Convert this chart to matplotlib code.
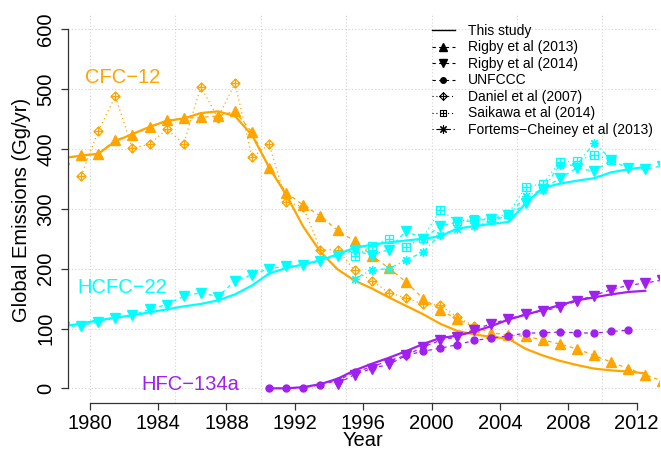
import numpy as np
import matplotlib.pyplot as plt
from matplotlib.path import Path
from matplotlib.lines import Line2D

plt.rcParams['font.family'] = ['Liberation Sans', 'DejaVu Sans']

# Annual global emissions in Gg/yr; each value is drawn at the middle of its year.
cfc12_study_years = list(range(1978, 2013))
cfc12_study = [385, 389, 392, 413, 425, 437, 447, 451, 460, 463,
               455, 423, 369, 323, 270, 228, 199, 180, 167, 152,
               138, 124, 108, 96, 90, 86, 83, 66, 55, 46,
               39, 33, 30, 28, 25]
cfc12_rigby_years = list(range(1978, 2014))
cfc12_rigby = [383, 390, 392, 415, 424, 436, 448, 451, 453, 455,
               463, 428, 369, 327, 306, 288, 264, 246, 222, 201,
               178, 150, 131, 116, 102, 93, 89, 87, 81, 74,
               66, 55, 44, 33, 23, 12]
cfc12_daniel_years = list(range(1979, 2003))
cfc12_daniel = [355, 430, 488, 401, 408, 433, 409, 504, 452, 510,
                386, 408, 312, 303, 231, 232, 197, 180, 160, 151,
                141, 139, 119, 104]

hcfc22_study_years = list(range(1978, 2013))
hcfc22_study = [104, 108, 114, 118, 122, 127, 132, 137, 141, 147,
                157, 172, 192, 201, 207, 214, 224, 235, 240, 244,
                247, 250, 254, 267, 271, 275, 278, 309, 335, 342,
                347, 351, 361, 366, 370]
hcfc22_rigby_years = list(range(1978, 2014))
hcfc22_rigby = [103, 105, 111, 118, 122, 132, 140, 154, 160, 153,
                180, 190, 200, 204, 206, 213, 222, 231, 222, 232,
                263, 250, 271, 278, 280, 283, 289, 309, 333, 351,
                368, 363, 381, 368, 366, 372]
hcfc22_saikawa_years = list(range(1995, 2011))
hcfc22_saikawa = [221, 238, 250, 236, 252, 298, 279, 283, 284, 292,
                  336, 342, 378, 380, 390, 382]
hcfc22_fortems_years = list(range(1995, 2011))
hcfc22_fortems = [183, 198, 200, 214, 228, 257, 266, 272, 280, 289,
                  321, 332, 373, 373, 410, 383]

hfc134a_study_years = list(range(1990, 2013))
hfc134a_study = [0, 0, 2, 7, 16, 30, 41, 51, 62, 74,
                 84, 88, 95, 104, 115, 123, 131, 139, 147, 152,
                 157, 161, 163]
hfc134a_rigby_years = list(range(1994, 2014))
hfc134a_rigby = [8, 23, 33, 40, 55, 69, 80, 86, 98, 108,
                 116, 124, 129, 136, 146, 155, 165, 172, 176, 181]
hfc134a_unfccc_years = list(range(1990, 2012))
hfc134a_unfccc = [0, 0, 1, 6, 13, 27, 36, 46, 55, 62,
                  67, 73, 80, 84, 88, 92, 93, 94, 93, 92,
                  95, 97]

legend_labels = ['This study', 'Rigby et al (2013)', 'Rigby et al (2014)', 'UNFCCC',
                 'Daniel et al (2007)', 'Saikawa et al (2014)',
                 'Fortems\u2212Cheiney et al (2013)']

ORANGE = '#FFA500'
CYAN = '#00FFFF'
PURPLE = '#A020F0'

M, L, C = Path.MOVETO, Path.LINETO, Path.CLOSEPOLY
# open diamond with a plus, and open square with a plus
diamond_plus = Path([(0, 1), (1, 0), (0, -1), (-1, 0), (0, 1), (0, 1), (0, -1), (-1, 0), (1, 0)],
                    [M, L, L, L, C, M, L, M, L])
square_plus = Path([(-1, -1), (1, -1), (1, 1), (-1, 1), (-1, -1), (0, -1), (0, 1), (-1, 0), (1, 0)],
                   [M, L, L, L, C, M, L, M, L])
asterisk = (8, 2, 0)

DASHED = (0, (3, 3))
DOTTED = (0, (1, 2.5))
DOTDASH = (0, (1, 2.5, 3.5, 2.5))

STYLES = {
    'study': dict(ls='-', lw=1.6, marker=None),
    'rigby13': dict(ls=DASHED, lw=0.9, marker='^', ms=7.5),
    'rigby14': dict(ls=DASHED, lw=0.9, marker='v', ms=7.5),
    'unfccc': dict(ls=DASHED, lw=0.9, marker='o', ms=5),
    'daniel': dict(ls=DOTTED, lw=0.9, marker=diamond_plus, ms=6.5, mfc='none', mew=0.9),
    'saikawa': dict(ls=DOTTED, lw=0.9, marker=square_plus, ms=5.2, mfc='none', mew=0.9),
    'fortems': dict(ls=DOTDASH, lw=0.9, marker=asterisk, ms=6.5, mew=0.9),
}


def draw(ax, years, values, color, kind):
    x = np.asarray(years) + 0.5
    ax.plot(x, values, color=color, **STYLES[kind])


fig = plt.figure(figsize=(6.61, 4.51), dpi=100)
ax = fig.add_axes([0.1026, 0.1071, 0.8937, 0.8597])

for gx in range(1980, 2011, 5):
    ax.axvline(gx, color='#D3D3D3', lw=0.8, ls=(0, (1, 2)), zorder=0)
for gy in range(0, 601, 100):
    ax.axhline(gy, color='#D3D3D3', lw=0.8, ls=(0, (1, 2)), zorder=0)

draw(ax, cfc12_study_years, cfc12_study, ORANGE, 'study')
draw(ax, cfc12_rigby_years, cfc12_rigby, ORANGE, 'rigby13')
draw(ax, cfc12_daniel_years, cfc12_daniel, ORANGE, 'daniel')

draw(ax, hcfc22_study_years, hcfc22_study, CYAN, 'study')
draw(ax, hcfc22_rigby_years, hcfc22_rigby, CYAN, 'rigby14')
draw(ax, hcfc22_saikawa_years, hcfc22_saikawa, CYAN, 'saikawa')
draw(ax, hcfc22_fortems_years, hcfc22_fortems, CYAN, 'fortems')

draw(ax, hfc134a_study_years, hfc134a_study, PURPLE, 'study')
draw(ax, hfc134a_rigby_years, hfc134a_rigby, PURPLE, 'rigby14')
draw(ax, hfc134a_unfccc_years, hfc134a_unfccc, PURPLE, 'unfccc')

ax.text(1979.75, 519, 'CFC\u221212', color=ORANGE, fontsize=14.5, va='center', ha='left')
ax.text(1979.3, 169, 'HCFC\u221222', color=CYAN, fontsize=14.5, va='center', ha='left')
ax.text(1983.0, 6, 'HFC\u2212134a', color=PURPLE, fontsize=14.5, va='center', ha='left')

ax.set_xlim(1978.72, 2013.28)
ax.set_ylim(-24, 624)
ax.set_xticks(range(1980, 2013, 4))
ax.set_yticks(range(0, 601, 100))
for side in ('top', 'right'):
    ax.spines[side].set_visible(False)
ax.spines['bottom'].set_bounds(1980, 2012)
ax.spines['left'].set_bounds(0, 600)
for side in ('bottom', 'left'):
    ax.spines[side].set_color('#333333')
    ax.spines[side].set_linewidth(0.9)
ax.tick_params(direction='out', length=5, width=0.9, color='#333333', labelsize=14.5)
ax.tick_params(axis='x', pad=3)
ax.tick_params(axis='y', pad=4, labelrotation=90)
for lbl in ax.get_yticklabels():
    lbl.set_va('center')

fig.text(363 / 661, 1 - 441 / 451, 'Year', fontsize=14.5, ha='center', va='center')
fig.text(22 / 661, 1 - 210 / 451, 'Global Emissions (Gg/yr)', fontsize=14.5,
         ha='center', va='center', rotation=90)

handles = [
    Line2D([], [], color='k', ls='-', lw=1.0),
    Line2D([], [], color='k', ls=DASHED, lw=0.8, marker='^', ms=5.5),
    Line2D([], [], color='k', ls=DASHED, lw=0.8, marker='v', ms=5.5),
    Line2D([], [], color='k', ls=DASHED, lw=0.8, marker='o', ms=4),
    Line2D([], [], color='k', ls=DOTTED, lw=0.8, marker=diamond_plus, ms=5.5, mfc='none', mew=0.8),
    Line2D([], [], color='k', ls=DOTTED, lw=0.8, marker=square_plus, ms=4.2, mfc='none', mew=0.8),
    Line2D([], [], color='k', ls=DOTDASH, lw=0.8, marker=asterisk, ms=6, mew=0.8),
]
ax.legend(handles, legend_labels, loc='upper left', bbox_to_anchor=(431.7 / 661, 1 - 24 / 451),
          bbox_transform=fig.transFigure, frameon=False, fontsize=10, handlelength=1.66,
          handletextpad=0.96, labelspacing=0.18, borderpad=0, borderaxespad=0)

fig.savefig('out.png', dpi=100)
